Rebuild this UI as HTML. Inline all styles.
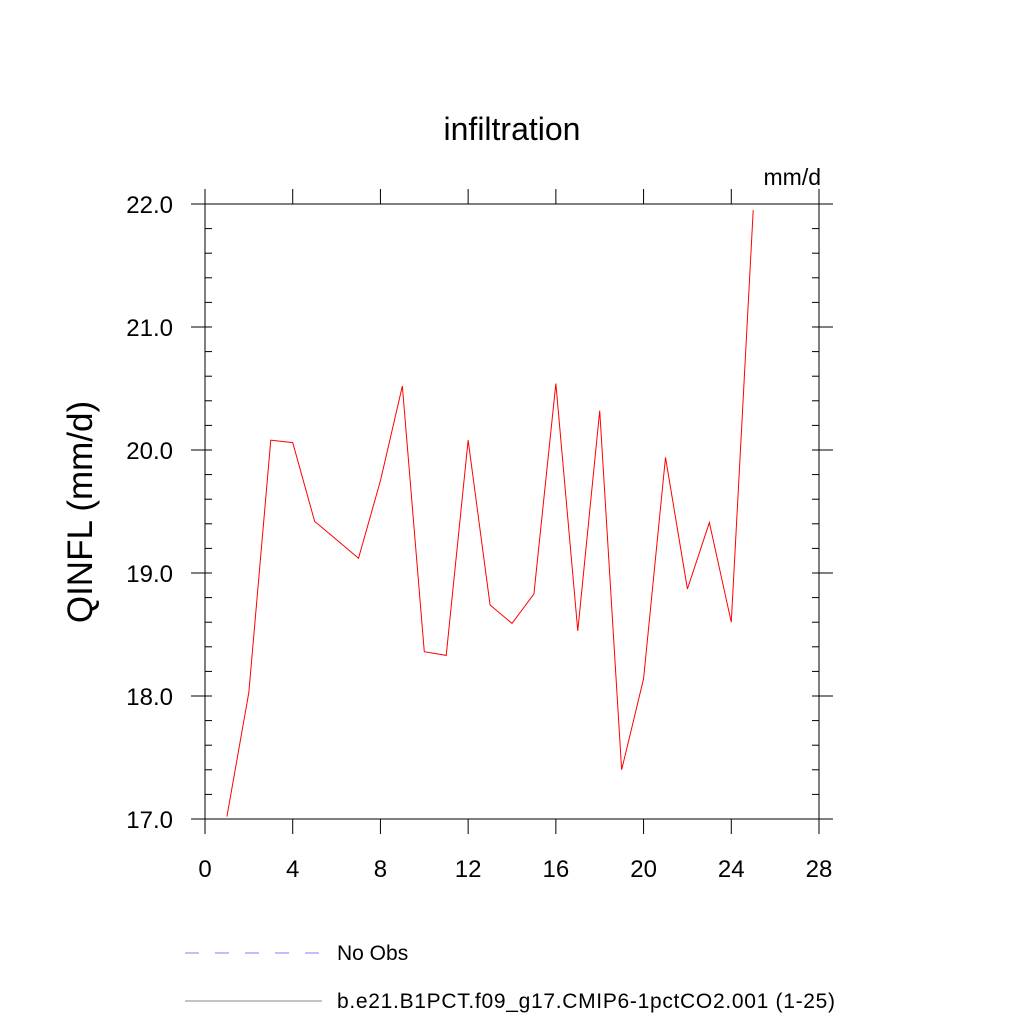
<!DOCTYPE html>
<html><head><meta charset="utf-8"><style>
html,body{margin:0;padding:0;background:#fff;}
svg{display:block;font-family:"Liberation Sans",sans-serif;}
</style></head><body>
<svg id="c" width="1024" height="1024" viewBox="0 0 1024 1024">
<text x="512" y="140" text-anchor="middle" font-size="32">infiltration</text>
<text x="821" y="185" text-anchor="end" font-size="23">mm/d</text>
<text transform="translate(92,512) rotate(-90)" text-anchor="middle" font-size="35">QINFL  (mm/d)</text>
<g id="axes"></g>
<polyline id="series" fill="none" stroke="#ff0000" stroke-width="1"/>
<g>
<line x1="185" y1="953" x2="322" y2="953" stroke="#8080ff" stroke-width="1" stroke-dasharray="14,16"/>
<text x="337" y="960" font-size="21">No Obs</text>
<line x1="185" y1="1001" x2="322" y2="1001" stroke="#888" stroke-width="1"/>
<text x="337" y="1008" font-size="21" textLength="498">b.e21.B1PCT.f09_g17.CMIP6-1pctCO2.001 (1-25)</text>
</g>
</svg>
<script>
const xValues=[1,2,3,4,5,6,7,8,9,10,11,12,13,14,15,16,17,18,19,20,21,22,23,24,25];
const yValues=[17.02,18.03,20.08,20.06,19.42,19.27,19.12,19.75,20.52,18.36,18.33,20.08,18.74,18.59,18.83,20.54,18.53,20.32,17.40,18.14,19.94,18.87,19.41,18.60,21.95];
const xTicks=[0,4,8,12,16,20,24,28];
const yTicks=[17.0,18.0,19.0,20.0,21.0,22.0];
const X0=205,X1=819,Y0=819,Y1=204;
const xMin=0,xMax=28,yMin=17,yMax=22;
function sx(v){return X0+(v-xMin)/(xMax-xMin)*(X1-X0);}
function sy(v){return Y0-(v-yMin)/(yMax-yMin)*(Y0-Y1);}
const NS="http://www.w3.org/2000/svg";
const g=document.getElementById('axes');
function ln(x1,y1,x2,y2,name){const l=document.createElementNS(NS,'line');l.setAttribute('x1',x1);l.setAttribute('y1',y1);l.setAttribute('x2',x2);l.setAttribute('y2',y2);l.setAttribute('stroke','#000');l.setAttribute('stroke-width','1');


g.appendChild(l);return l;}
function tx(x,y,s,anchor,name){const t=document.createElementNS(NS,'text');t.setAttribute('x',x);t.setAttribute('y',y);t.setAttribute('text-anchor',anchor);t.setAttribute('font-size','24');t.textContent=s;


g.appendChild(t);}
ln(X0-14,Y0,X1+14,Y0,'x-axis-bottom');
ln(X0-14,Y1,X1+14,Y1,'x-axis-top');
ln(X0,Y1-15,X0,Y0+15,'y-axis-left');
ln(X1,Y1-15,X1,Y0+15,'y-axis-right');
xTicks.forEach(v=>{const x=sx(v);ln(x,Y0,x,Y0+15,'x-tick');ln(x,Y1,x,Y1-15,'x-tick-top');tx(x,Y0+58,String(v),'middle','x-tick-label');});
yTicks.forEach(v=>{const y=sy(v);ln(X0-14,y,X0,y,'y-tick');ln(X1,y,X1+14,y,'y-tick-right');tx(X0-32,y+9,v.toFixed(1),'end','y-tick-label');});
for(let v=yMin;v<=yMax+1e-9;v+=0.2){const y=sy(v);ln(X0,y,X0+7,y,'y-minor-tick');ln(X1-7,y,X1,y,'y-minor-tick-right');}
document.getElementById('series').setAttribute('points',xValues.map((x,i)=>sx(x)+','+sy(yValues[i])).join(' '));
</script>
</body></html>
